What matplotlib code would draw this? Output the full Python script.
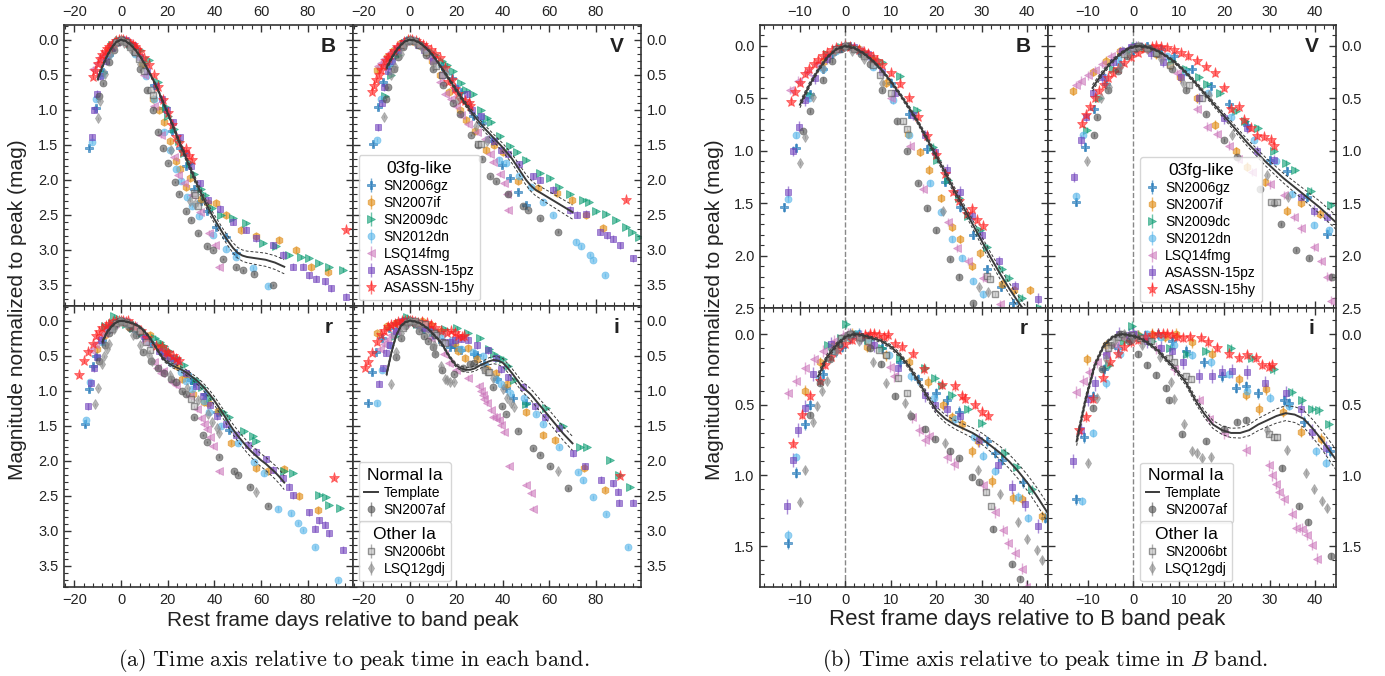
import numpy as np
import matplotlib
matplotlib.use('Agg')
import matplotlib.pyplot as plt
from matplotlib.ticker import MultipleLocator, AutoMinorLocator
from matplotlib.lines import Line2D

plt.rcParams['font.family'] = ['Liberation Sans', 'DejaVu Sans']
plt.rcParams['mathtext.fontset'] = 'cm'

# ---------------- objects ----------------
sn_names = ['SN2006gz', 'SN2007if', 'SN2009dc', 'SN2012dn', 'LSQ14fmg',
            'ASASSN-15pz', 'ASASSN-15hy', 'SN2007af', 'SN2006bt', 'LSQ12gdj']
sn_colors = ['#1470b4', '#e08a10', '#0a9c72', '#56b4e9', '#cc78bc',
             '#7040bc', '#ff2020', '#505050', '#777777', '#8a8a8a']
sn_markers = ['P', 'h', '>', 'o', '<', 's', '*', 'o', 's', 'd']
sn_err = [0.04, 0.04, 0.03, 0.03, 0.04, 0.05, 0.03, 0.02, 0.02, 0.02]

# band-peak time relative to B-band peak (days), per object
B_off = [0, 0, 0, 0, 0, 0, 0, 0, 0, 0]
V_off = [3, 1, 0.5, 1.5, 1, 0.5, 5, 1.5, 1, 1]
r_off = [3, 1.5, 3, 2.5, 0.5, 1.4, 6.4, 1.5, 1, 1]
i_off = [5.5, 4, 1, 3, 0, 0, 7.5, -3, -2.5, -2]

# ---------------- B band (days from band peak, mag from peak) ----------------
B_06gz_t = [-13.6, -10.8, -7.8, -5, -3, -1, 1, 3, 6, 10, 14, 18, 22, 25.2, 28, 31.2, 34.3, 37, 40.8, 45, 49.4]
B_06gz_m = [1.54, 0.97, 0.46, 0.22, 0.08, 0.02, 0.0, 0.04, 0.12, 0.35, 0.65, 0.98, 1.3, 1.54, 1.8, 2.13, 2.3, 2.45, 2.67, 2.81, 3.05]
B_07if_t = [-5, -2, 0.5, 3, 6, 9, 13.8, 16.4, 18.5, 21, 23.4, 25.2, 27.8, 29.6, 34.4, 37.2, 40.6, 45, 51.5, 58, 67.9, 75, 81.5, 88.7]
B_07if_m = [0.15, 0.04, 0.0, 0.03, 0.13, 0.35, 0.84, 1.01, 1.18, 1.45, 1.73, 1.84, 2.1, 1.98, 2.27, 2.33, 2.33, 2.5, 2.71, 2.8, 2.86, 3.0, 3.24, 3.31]
B_09dc_t = [-7.8, -4, -1, 1, 4, 8, 12, 15.7, 19.3, 20.1, 22.6, 25, 27, 29.6, 31.2, 34.4, 36, 38.8, 42.9, 47.9, 53.6, 60.8, 66.5, 72.2, 77.2, 80.7, 85, 89.4, 95.1]
B_09dc_m = [0.47, 0.08, 0.01, 0.0, 0.06, 0.15, 0.29, 0.61, 0.96, 1.09, 1.28, 1.45, 1.62, 1.76, 1.92, 2.13, 2.21, 2.40, 2.5, 2.55, 2.62, 2.9, 2.95, 3.07, 3.1, 3.12, 3.19, 3.24, 3.28]
B_12dn_t = [-12.6, -10.8, -8, -5, -2, 0, 3, 6, 10.5, 14, 18.6, 21, 23.4, 25.6, 28.1, 30.4, 33.6, 39.3, 45.1, 49.3, 56.5, 62.9]
B_12dn_m = [1.46, 0.85, 0.5, 0.22, 0.05, 0.0, 0.05, 0.2, 0.52, 0.85, 1.31, 1.58, 1.84, 2.02, 2.24, 2.37, 2.52, 2.79, 2.98, 3.1, 3.26, 3.51]
B_14fmg_t = [-12.2, -10.4, -8.5, -6.3, -4, -2, 0, 3, 6, 10, 14.2, 17.1, 22.6, 24.5, 27, 30.4, 34, 37.9, 40.1, 42.2]
B_14fmg_m = [0.42, 0.33, 0.25, 0.17, 0.09, 0.03, 0.0, 0.04, 0.15, 0.5, 0.95, 1.36, 1.68, 1.93, 2.05, 2.21, 2.46, 2.76, 2.93, 3.24]
B_15pz_t = [-12.6, -11.5, -10.2, -8.9, -6.6, -4, -2, 0, 2, 5, 8, 11, 14.9, 17.5, 19.7, 22.3, 25.2, 27.8, 30, 33.9, 37.3, 42.5, 47.9, 53.6, 58, 65, 69.4, 73.6, 77.9, 80.8, 83.7, 87.3, 90.1, 96.6]
B_15pz_m = [1.39, 1.0, 0.77, 0.52, 0.31, 0.12, 0.03, 0.0, 0.01, 0.08, 0.25, 0.45, 0.66, 0.85, 1.01, 1.18, 1.39, 1.62, 1.8, 2.05, 2.29, 2.41, 2.6, 2.71, 2.83, 2.93, 3.07, 3.24, 3.24, 3.36, 3.41, 3.45, 3.55, 3.67]
B_15hy_t = [-12, -11, -10, -9, -8, -7, -6, -5, -4, -3, -2, -1, 0, 1, 2, 3, 4, 5, 6, 7, 8, 10, 12, 14, 16, 18, 20, 22, 23.7, 25, 26.7, 27.9, 29, 30.4, 96.6]
B_15hy_m = [0.53, 0.44, 0.35, 0.27, 0.22, 0.17, 0.13, 0.1, 0.07, 0.04, 0.02, 0.01, 0.0, 0.01, 0.02, 0.04, 0.06, 0.08, 0.11, 0.14, 0.18, 0.26, 0.36, 0.5, 0.68, 0.86, 1.04, 1.22, 1.39, 1.48, 1.6, 1.56, 1.66, 1.72, 2.71]
B_07af_t = [-9.3, -7.8, -5, -3, -1, 0.5, 2, 3.5, 5.4, 8, 11.3, 13.5, 16, 18, 20, 23, 25, 28, 30, 33, 37, 39.5, 43.6, 49.4, 52.2, 57.2, 65]
B_07af_m = [0.81, 0.62, 0.32, 0.14, 0.03, 0.0, 0.03, 0.08, 0.17, 0.42, 0.72, 1.0, 1.31, 1.55, 1.76, 2.03, 2.2, 2.45, 2.57, 2.76, 2.95, 3.0, 3.13, 3.25, 3.29, 3.34, 3.5]
B_06bt_t = [-2, 0, 2, 4, 6, 7.6, 10, 12.7, 13.6, 31.1, 31.8, 33]
B_06bt_m = [0.03, 0.0, 0.03, 0.1, 0.18, 0.28, 0.45, 0.72, 0.79, 2.19, 2.22, 2.37]
B_12gdj_t = [-10, -8.9, -7.1, -4.9, -2.5, 0, 1.4, 4, 8, 21.5, 29.5, 31.5]
B_12gdj_m = [1.12, 0.87, 0.49, 0.21, 0.06, 0.0, 0.05, 0.12, 0.35, 1.57, 2.3, 2.35]

# ---------------- V band ----------------
V_06gz_t = [-15.7, -13.6, -11.7, -9, -6, -3, 0, 3, 6, 10, 14, 18, 22, 27.1, 30.9, 35.3, 39.7, 43, 46.6, 50]
V_06gz_m = [1.49, 0.96, 0.6, 0.36, 0.17, 0.05, 0.0, 0.03, 0.1, 0.22, 0.38, 0.55, 0.75, 1.09, 1.19, 1.44, 1.79, 1.98, 2.17, 2.36]
V_07if_t = [-14.2, -10, -7, -4, -1, 1, 4, 7, 9.3, 13, 17, 21.5, 24, 28, 32.9, 36, 40, 46.6, 55, 63.2, 69.6, 76, 83.2]
V_07if_m = [0.43, 0.25, 0.14, 0.05, 0.01, 0.02, 0.08, 0.18, 0.3, 0.5, 0.75, 1.0, 1.15, 1.3, 1.57, 1.5, 1.6, 2.02, 2.12, 2.19, 2.29, 2.5, 2.69]
V_09dc_t = [-10.7, -8, -5, -2, 0, 2, 5, 8, 11, 14, 15.8, 18.6, 22, 24, 27, 30.5, 33, 35, 38.6, 43, 46, 50.1, 55.9, 60.2, 64.4, 69, 74.4, 77.2, 80.1, 84.4, 88.6, 92.9, 95.8, 98.6]
V_09dc_m = [0.8, 0.5, 0.22, 0.05, 0.0, 0.01, 0.06, 0.14, 0.22, 0.3, 0.36, 0.45, 0.62, 0.72, 0.78, 1.0, 1.12, 1.18, 1.38, 1.52, 1.6, 1.71, 1.9, 1.98, 2.1, 2.2, 2.29, 2.31, 2.45, 2.48, 2.57, 2.67, 2.74, 2.81]
V_12dn_t = [-14.2, -12.5, -8, -5, -2, 0, 3, 6, 10, 15, 20, 25, 30, 33.5, 38.3, 41.5, 47, 52.3, 57.3, 61.6, 71.6, 73.8, 77.4, 78.8, 83.8]
V_12dn_m = [1.43, 0.85, 0.3, 0.12, 0.02, 0.0, 0.03, 0.1, 0.25, 0.45, 0.68, 0.9, 1.1, 1.41, 1.71, 1.76, 1.95, 2.1, 2.31, 2.5, 2.88, 2.95, 3.07, 3.14, 3.36]
V_14fmg_t = [-13.7, -12.5, -11, -9.5, -8, -6, -4, -2, 0, 2, 5, 8.7, 13.1, 15.3, 17.5, 20, 22, 25, 29, 32.2, 34.4, 35.9, 38.8, 40.3, 41.7, 42.4]
V_14fmg_m = [0.37, 0.33, 0.28, 0.23, 0.17, 0.1, 0.05, 0.02, 0.0, 0.03, 0.1, 0.26, 0.6, 0.77, 0.84, 0.95, 1.08, 1.2, 1.32, 1.42, 1.63, 1.74, 1.92, 2.05, 2.2, 2.43]
V_15pz_t = [-13.6, -12, -11, -9.5, -7.5, -5, -3, -1, 0, 3.3, 6, 10, 14, 19.5, 24.6, 26.8, 30.5, 36.4, 39.3, 42.2, 47, 53.1, 56, 61.7, 68.9, 71.8, 76, 81.8, 84.7, 87.6, 90.3, 96.1]
V_15pz_m = [1.25, 0.9, 0.68, 0.45, 0.3, 0.15, 0.05, 0.01, 0.0, 0.07, 0.15, 0.3, 0.5, 0.69, 0.78, 1.0, 1.09, 1.44, 1.57, 1.63, 1.78, 1.95, 2.0, 2.14, 2.43, 2.5, 2.48, 2.74, 2.79, 2.84, 2.93, 3.12]
V_15hy_t = [-16.4, -15.5, -14.5, -13.5, -12.5, -11.5, -10.5, -9.5, -8.5, -7, -5.5, -4, -2.5, -1, 0, 1, 2.5, 4, 5.5, 7, 9, 11, 13, 15, 16.4, 18.2, 19.4, 20.8, 22.2, 23.8, 25.3, 26, 93.1]
V_15hy_m = [0.74, 0.66, 0.58, 0.5, 0.43, 0.37, 0.31, 0.26, 0.22, 0.16, 0.11, 0.07, 0.03, 0.01, 0.0, 0.01, 0.02, 0.04, 0.07, 0.1, 0.14, 0.2, 0.26, 0.4, 0.6, 0.58, 0.71, 0.78, 0.86, 0.87, 0.9, 0.95, 2.29]
V_07af_t = [-10.2, -9.5, -7, -5, -3, -1, 0, 2, 4, 7, 10, 14.4, 18.4, 21.4, 26.3, 29.4, 31, 34.4, 37.2, 42.2, 48.7, 50.8, 55.9, 63.7]
V_07af_m = [0.85, 0.68, 0.42, 0.24, 0.1, 0.02, 0.0, 0.02, 0.08, 0.22, 0.42, 0.65, 0.9, 1.06, 1.36, 1.5, 1.70, 1.95, 2.02, 2.2, 2.38, 2.43, 2.55, 2.74]
V_06bt_t = [-3, -1, 0, 2, 4, 7, 11.3, 14, 29.3, 30.7]
V_06bt_m = [0.08, 0.02, 0.0, 0.02, 0.07, 0.18, 0.37, 0.5, 1.49, 1.49]
V_12gdj_t = [-11.3, -8.2, -6.4, -4, -2, 0, 2, 5, 10, 15.7, 20.8, 28.5, 33.1]
V_12gdj_m = [1.1, 0.5, 0.39, 0.2, 0.06, 0.0, 0.03, 0.12, 0.35, 0.47, 0.85, 1.23, 1.44]

# ---------------- r band ----------------
r_06gz_t = [-15.6, -13.8, -11.9, -10.8, -8, -5, -3.8, -2, 0, 2, 5, 9, 13, 17, 19.3, 22, 28.1, 29.9, 31.4, 36, 41, 46.5]
r_06gz_m = [1.48, 0.98, 0.64, 0.5, 0.28, 0.12, 0.09, 0.03, 0.0, 0.02, 0.1, 0.2, 0.32, 0.42, 0.47, 0.55, 0.76, 0.84, 0.89, 1.05, 1.3, 1.56]
r_07if_t = [-10.4, -7, -4, -1, 0, 3.2, 7.5, 12.4, 16.7, 20, 21.9, 24.1, 26.3, 27.7, 30.7, 35.5, 37.3, 41.7, 47.2, 57.9, 63, 70.1, 76.5, 84.4]
r_07if_m = [0.40, 0.2, 0.08, 0.02, 0.0, 0.09, 0.15, 0.2, 0.34, 0.5, 0.59, 0.64, 0.83, 0.76, 1.04, 1.16, 1.17, 1.29, 1.74, 2.10, 2.15, 2.11, 2.5, 2.7]
r_09dc_t = [-6.8, -4, -2.9, -1, 0, 2, 5, 9, 14.5, 16.7, 18.2, 20.4, 24, 27.1, 32.2, 34.7, 38, 43.6, 46.5, 52.9, 56.5, 57.9, 70.1, 73.7, 85.1, 88, 89.4, 94]
r_09dc_m = [0.08, 0.03, -0.07, 0.0, 0.0, 0.04, 0.1, 0.17, 0.24, 0.31, 0.36, 0.43, 0.53, 0.63, 0.84, 0.94, 1.1, 1.3, 1.37, 1.58, 1.65, 1.72, 2.15, 2.17, 2.48, 2.51, 2.63, 2.67]
r_12dn_t = [-15.1, -13.3, -8.4, -5, -2, 0, 3, 7, 12, 17, 21.6, 25.7, 27.9, 30.4, 35.6, 37.8, 43, 50, 57.2, 61.5, 67.2, 73, 75.8, 78, 83, 93]
r_12dn_m = [1.42, 0.87, 0.31, 0.12, 0.02, 0.0, 0.04, 0.15, 0.3, 0.45, 0.6, 0.73, 0.86, 0.97, 1.15, 1.3, 1.5, 1.75, 2.01, 2.18, 2.68, 2.75, 2.89, 2.99, 3.23, 3.7]
r_14fmg_t = [-13.1, -11.3, -9.4, -7.5, -5.5, -3, -1, 0, 2, 5, 9.3, 10.3, 14.1, 15.6, 17, 18, 21.9, 23.4, 29.7, 32.4, 34.3, 35.4, 36.9, 38.3, 39.3, 42.2]
r_14fmg_m = [0.42, 0.33, 0.24, 0.18, 0.12, 0.05, 0.01, 0.0, 0.02, 0.08, 0.23, 0.3, 0.59, 0.68, 0.75, 0.72, 0.87, 0.92, 1.07, 1.26, 1.39, 1.48, 1.55, 1.66, 1.79, 2.15]
r_15pz_t = [-14.3, -13, -11.8, -10.3, -8.5, -4.5, -0.4, 2, 5, 10.2, 16.1, 18.3, 20.9, 23.8, 28, 32.3, 35.2, 38.1, 41.1, 45, 49.3, 54.4, 58, 62.2, 65.1, 69.4, 72.2, 73.7, 80.8, 83, 85.1, 87.3, 89.4, 95.1]
r_15pz_m = [1.22, 0.89, 0.68, 0.52, 0.28, 0.07, 0.01, 0.02, 0.08, 0.24, 0.43, 0.5, 0.53, 0.58, 0.75, 0.93, 1.08, 1.2, 1.36, 1.48, 1.63, 1.77, 1.87, 1.98, 2.13, 2.25, 2.37, 2.49, 2.73, 2.97, 2.85, 2.91, 3.03, 3.27]
r_15hy_t = [-17.9, -16, -14.2, -12, -10.9, -9.5, -8, -6.5, -5, -3.5, -2, -1, 0, 1, 2, 3, 4.5, 6, 8.5, 11, 14.8, 17.7, 19.2, 20, 22.1, 23.6, 25, 91.5]
r_15hy_m = [0.78, 0.57, 0.44, 0.33, 0.22, 0.16, 0.11, 0.07, 0.04, 0.02, 0.01, 0.0, 0.0, 0.01, 0.02, 0.01, 0.07, 0.09, 0.14, 0.25, 0.36, 0.37, 0.44, 0.46, 0.5, 0.55, 0.58, 2.25]
r_07af_t = [-9.3, -7, -5, -3, -1, 0, 2, 4, 6.4, 9.4, 13, 16, 18.2, 21.5, 23.4, 26.3, 28, 31.1, 35.1, 36.9, 42.2, 48.6, 50.1, 55.1, 63]
r_07af_m = [0.57, 0.35, 0.18, 0.07, 0.01, 0.0, 0.03, 0.1, 0.21, 0.44, 0.58, 0.67, 0.74, 0.83, 0.88, 1.01, 1.05, 1.38, 1.63, 1.73, 1.94, 2.15, 2.2, 2.37, 2.64]
r_06bt_t = [-4, -2, 0, 2, 4, 6.5, 8, 10.6, 12.5, 30, 31.1]
r_06bt_m = [0.12, 0.03, 0.0, 0.02, 0.05, 0.11, 0.15, 0.31, 0.42, 1.12, 1.22]
r_12gdj_t = [-11.1, -9.9, -8.1, -7.3, -6.2, -5.1, -3, -1, 0, 2, 5, 8, 12.1, 13.2, 20.9, 28.3, 33, 37.1, 38.9, 41.1, 42.2, 57.9]
r_12gdj_m = [1.19, 0.96, 0.62, 0.51, 0.4, 0.33, 0.12, 0.02, 0.0, 0.05, 0.2, 0.35, 0.49, 0.57, 0.77, 0.96, 1.13, 1.33, 1.45, 1.53, 1.6, 2.44]

# ---------------- i band ----------------
i_06gz_t = [-18.2, -16.4, -14.5, -12, -9, -6, -3, 0, 3, 6, 10, 14, 17.1, 19.3, 22, 27.7, 28.8, 32, 37.7, 41.5, 44.4, 50]
i_06gz_m = [1.17, 0.73, 0.44, 0.25, 0.1, 0.03, 0.01, 0.0, 0.05, 0.12, 0.2, 0.3, 0.38, 0.37, 0.42, 0.47, 0.49, 0.62, 0.83, 0.96, 1.1, 1.17]
i_07if_t = [-14.2, -10, -6, -3, 0, 3, 5.3, 9, 13.4, 19.3, 20.8, 23.7, 25.2, 29, 33, 37.2, 42, 50.1, 57.3, 62.3, 75, 83.8]
i_07if_m = [0.18, 0.08, 0.03, 0.01, 0.0, 0.02, 0.0, 0.06, 0.14, 0.32, 0.43, 0.53, 0.39, 0.55, 0.69, 0.74, 0.9, 1.3, 1.63, 1.7, 2.1, 2.41]
i_09dc_t = [-6.4, -3, -1.2, 0, 3, 7, 10.9, 15, 20.4, 25, 30, 34, 36.2, 38.4, 39.9, 42.1, 45, 50.1, 58.8, 66, 73.4, 76.3, 86.3, 89.9, 94.8]
i_09dc_m = [0.22, 0.05, -0.06, 0.0, 0.05, 0.1, 0.14, 0.12, 0.1, 0.17, 0.25, 0.41, 0.47, 0.53, 0.54, 0.64, 0.85, 1.19, 1.25, 1.5, 1.8, 1.8, 1.99, 2.2, 2.37]
i_12dn_t = [-14.3, -12, -9, -6, -3, 0, 3, 6, 10, 14, 18, 22, 27, 31.3, 37.2, 39.4, 43, 49.3, 54.4, 57.3, 64.4, 72.2, 74.4, 78.7, 84.4, 93.7]
i_12dn_m = [1.18, 0.7, 0.35, 0.14, 0.03, 0.0, 0.02, 0.08, 0.15, 0.2, 0.28, 0.4, 0.45, 0.51, 0.83, 0.91, 1.03, 1.1, 1.33, 1.47, 1.8, 2.16, 2.28, 2.52, 2.76, 3.23]
i_14fmg_t = [-12.7, -11.2, -9.7, -8, -6, -4, -2, 0, 2, 5, 9, 14.5, 16.7, 20, 24.8, 29.9, 30.6, 31.4, 32.1, 33.2, 35, 35.8, 37.2, 38.3, 39.4, 40.5, 42.8, 50.1, 52.3, 53]
i_14fmg_m = [0.41, 0.33, 0.27, 0.2, 0.14, 0.08, 0.03, 0.0, 0.03, 0.1, 0.25, 0.47, 0.6, 0.7, 0.82, 0.93, 1.0, 1.06, 1.12, 1.17, 1.27, 1.37, 1.38, 1.42, 1.49, 1.59, 2.08, 2.34, 2.46, 2.68]
i_15pz_t = [-13.4, -11.5, -10.1, -8.5, -6, -3.2, -1, 0, 3, 6, 8.6, 11, 14.5, 17.4, 19.6, 21.8, 25.1, 29, 33.6, 36.9, 39.4, 42.4, 48.7, 53.7, 58, 64.4, 70.2, 75.2, 82.3, 87.3, 89.4, 90.1, 96.1]
i_15pz_m = [0.9, 0.68, 0.46, 0.35, 0.15, 0.0, 0.01, 0.0, 0.05, 0.1, 0.12, 0.2, 0.3, 0.3, 0.27, 0.26, 0.27, 0.35, 0.42, 0.53, 0.69, 0.81, 0.94, 1.22, 1.38, 1.53, 1.89, 2.08, 2.27, 2.32, 2.44, 2.6, 2.6]
i_15hy_t = [-19.4, -17.9, -16.5, -14.3, -12.6, -11, -9.5, -8, -6.5, -5, -3.5, -2, -1, 0, 1, 2, 3.5, 5, 7.3, 9, 11, 13.5, 15.8, 17.5, 19.4, 20.9, 22.4, 23.1, 90.3]
i_15hy_m = [0.68, 0.59, 0.46, 0.31, 0.2, 0.14, 0.09, 0.06, 0.04, 0.02, 0.01, 0.0, 0.0, 0.0, 0.01, 0.02, 0.03, 0.02, 0.03, 0.06, 0.1, 0.14, 0.17, 0.15, 0.17, 0.22, 0.23, 0.22, 2.22]
i_07af_t = [-6, -4, -2, 0, 2, 4, 6, 7.9, 10.1, 10.9, 13.8, 18.9, 22.9, 25.9, 27.8, 35.8, 39.5, 41.4, 46.4, 53, 55.9, 60.2, 68]
i_07af_m = [0.52, 0.25, 0.08, 0.0, 0.05, 0.14, 0.22, 0.29, 0.38, 0.47, 0.71, 0.76, 0.67, 0.62, 0.61, 0.95, 1.22, 1.33, 1.57, 1.82, 1.91, 2.08, 2.39]
i_06bt_t = [-3, -1, 0, 2, 4, 6.3, 10.4, 11.4, 14, 15.1, 32.4, 33.5, 34.2]
i_06bt_m = [0.1, 0.02, 0.0, 0.01, 0.03, 0.05, 0.17, 0.2, 0.3, 0.32, 0.71, 0.73, 0.73]
i_12gdj_t = [-8.1, -6, -4, -2, 0, 2, 4, 7.8, 10.2, 10.9, 13.2, 15, 16.1, 17.2, 19, 31.5, 35.9, 39.9, 41.7, 43.6, 44.7, 63.7]
i_12gdj_m = [0.91, 0.45, 0.18, 0.04, 0.0, 0.03, 0.08, 0.16, 0.34, 0.46, 0.64, 0.83, 0.84, 0.88, 0.87, 0.68, 0.82, 0.98, 1.1, 1.18, 1.23, 2.15]

# ---------------- normal Ia template ----------------
tmpl_t = [-10, -8, -6, -4, -2, 0, 2, 4, 6, 8, 10, 12, 14, 16, 18, 20, 22, 24, 26, 28, 30,
          32, 34, 36, 38, 40, 42, 44, 46, 48, 50, 52, 54, 56, 58, 60, 62, 64, 66, 68, 70]
tmpl_B = [0.56, 0.38, 0.23, 0.11, 0.03, 0.0, 0.02, 0.07, 0.14, 0.23, 0.34, 0.46, 0.59, 0.73, 0.89, 1.05, 1.21, 1.38, 1.54, 1.70, 1.86,
          2.02, 2.17, 2.31, 2.44, 2.56, 2.67, 2.78, 2.88, 2.97, 3.04, 3.08, 3.10, 3.11, 3.12, 3.13, 3.14, 3.16, 3.18, 3.21, 3.24]
tmpl_V = [0.40, 0.27, 0.16, 0.08, 0.02, 0.0, 0.01, 0.04, 0.09, 0.15, 0.23, 0.32, 0.42, 0.52, 0.62, 0.72, 0.82, 0.92, 1.01, 1.10, 1.18,
          1.26, 1.33, 1.40, 1.47, 1.54, 1.62, 1.70, 1.80, 1.90, 2.0, 2.08, 2.14, 2.18, 2.22, 2.26, 2.30, 2.34, 2.38, 2.42, 2.46]
tmpl_r = [np.nan, 0.30, 0.16, 0.08, 0.02, 0.0, 0.01, 0.03, 0.05, 0.09, 0.15, 0.23, 0.33, 0.44, 0.54, 0.60, 0.64, 0.67, 0.70, 0.74, 0.79,
          0.84, 0.90, 0.97, 1.05, 1.14, 1.24, 1.34, 1.45, 1.55, 1.64, 1.72, 1.80, 1.87, 1.93, 1.99, 2.04, 2.10, 2.16, 2.23, 2.31]
tmpl_i = [0.76, 0.46, 0.22, 0.08, 0.02, 0.0, 0.01, 0.03, 0.07, 0.12, 0.19, 0.26, 0.34, 0.46, 0.56, 0.64, 0.68, 0.70, 0.70, 0.68, 0.64,
          0.61, 0.58, 0.56, 0.57, 0.60, 0.67, 0.75, 0.84, 0.93, 0.99, 1.05, 1.13, 1.21, 1.29, 1.37, 1.45, 1.53, 1.61, 1.68, 1.75]
tmpl_err = [0.03, 0.025, 0.02, 0.015, 0.01, 0.01, 0.01, 0.01, 0.012, 0.014, 0.016, 0.018, 0.02, 0.022, 0.025, 0.028, 0.03, 0.033, 0.036, 0.04, 0.043,
            0.046, 0.05, 0.053, 0.056, 0.06, 0.063, 0.066, 0.07, 0.073, 0.076, 0.08, 0.083, 0.086, 0.09, 0.092, 0.094, 0.096, 0.098, 0.1, 0.1]
tmpl_off = {'B': 0, 'V': 1, 'r': 2, 'i': -2.5}

BANDS = {
    'B': [(B_06gz_t, B_06gz_m), (B_07if_t, B_07if_m), (B_09dc_t, B_09dc_m), (B_12dn_t, B_12dn_m), (B_14fmg_t, B_14fmg_m),
          (B_15pz_t, B_15pz_m), (B_15hy_t, B_15hy_m), (B_07af_t, B_07af_m), (B_06bt_t, B_06bt_m), (B_12gdj_t, B_12gdj_m)],
    'V': [(V_06gz_t, V_06gz_m), (V_07if_t, V_07if_m), (V_09dc_t, V_09dc_m), (V_12dn_t, V_12dn_m), (V_14fmg_t, V_14fmg_m),
          (V_15pz_t, V_15pz_m), (V_15hy_t, V_15hy_m), (V_07af_t, V_07af_m), (V_06bt_t, V_06bt_m), (V_12gdj_t, V_12gdj_m)],
    'r': [(r_06gz_t, r_06gz_m), (r_07if_t, r_07if_m), (r_09dc_t, r_09dc_m), (r_12dn_t, r_12dn_m), (r_14fmg_t, r_14fmg_m),
          (r_15pz_t, r_15pz_m), (r_15hy_t, r_15hy_m), (r_07af_t, r_07af_m), (r_06bt_t, r_06bt_m), (r_12gdj_t, r_12gdj_m)],
    'i': [(i_06gz_t, i_06gz_m), (i_07if_t, i_07if_m), (i_09dc_t, i_09dc_m), (i_12dn_t, i_12dn_m), (i_14fmg_t, i_14fmg_m),
          (i_15pz_t, i_15pz_m), (i_15hy_t, i_15hy_m), (i_07af_t, i_07af_m), (i_06bt_t, i_06bt_m), (i_12gdj_t, i_12gdj_m)],
}
OFFS = {'B': B_off, 'V': V_off, 'r': r_off, 'i': i_off}
TMPL = {'B': tmpl_B, 'V': tmpl_V, 'r': tmpl_r, 'i': tmpl_i}

ms_map = {'P': 5.5, 'h': 5.5, '>': 5.5, 'o': 5, '<': 5.5, 's': 5, '*': 8, 'd': 5}
SPINE = '#333333'
TCOL = '#3a3a3a'

fig = plt.figure(figsize=(13.85, 6.76), dpi=100)
W, H = 1385.0, 676.0


def add_ax(x0, x1, y0, y1):
    return fig.add_axes([x0 / W, 1 - y1 / H, (x1 - x0) / W, (y1 - y0) / H])


def style(ax, top_row, right_col, xmaj, xlim, ylim):
    ax.set_xlim(*xlim)
    ax.set_ylim(*ylim)
    ax.xaxis.set_major_locator(MultipleLocator(xmaj))
    ax.xaxis.set_minor_locator(AutoMinorLocator(5))
    ax.yaxis.set_major_locator(MultipleLocator(0.5))
    ax.yaxis.set_minor_locator(AutoMinorLocator(5))
    ax.tick_params(which='both', direction='in', top=True, bottom=True, left=True, right=True,
                   colors=SPINE, labelcolor='#222222', labelsize=10.5)
    ax.tick_params(which='major', length=5, width=1.0, pad=4)
    ax.tick_params(which='minor', length=2.8, width=0.8)
    ax.tick_params(labeltop=top_row, labelbottom=not top_row,
                   labelleft=not right_col, labelright=right_col)
    for sp in ax.spines.values():
        sp.set_color(SPINE)
        sp.set_linewidth(1.2)


def draw(ax, band, shifted):
    data = BANDS[band]
    offs = OFFS[band]
    handles = []
    for k in range(len(sn_names)):
        t = np.asarray(data[k][0], float)
        if shifted:
            t = t + offs[k]
        m = np.asarray(data[k][1], float)
        mk = sn_markers[k]
        kw = dict(fmt=mk, color=sn_colors[k], ms=ms_map[mk], alpha=0.6,
                  elinewidth=1.0, capsize=0, zorder=2, mew=0.6)
        if sn_names[k] == 'SN2006bt':
            kw.update(mfc='#c4c4c4', mec='#555555', mew=1.0)
        if sn_names[k] == 'SN2007af':
            kw.update(alpha=0.6)
        h = ax.errorbar(t, m, yerr=sn_err[k], **kw)
        handles.append(h)
    tt = np.asarray(tmpl_t, float) + (tmpl_off[band] if shifted else 0)
    tm = np.asarray(TMPL[band], float)
    te = np.asarray(tmpl_err, float)
    ax.plot(tt, tm, color=TCOL, lw=1.4, zorder=5)
    ax.plot(tt, tm - te, color=TCOL, lw=0.7, ls=(0, (3, 2)), zorder=5)
    ax.plot(tt, tm + te, color=TCOL, lw=0.7, ls=(0, (3, 2)), zorder=5)
    if shifted:
        ax.axvline(0, color='#888888', ls='--', lw=1.0, zorder=1)
    ax.text(0.915, 0.925, band, transform=ax.transAxes, fontsize=15, fontweight='bold',
            ha='center', va='center', color='#222222')
    return handles


def legends(ax_v, ax_i, hv, hi, x0):
    lk = dict(fontsize=10, title_fontsize=12.5, frameon=True, fancybox=True, edgecolor='#cccccc',
              handlelength=1.0, handletextpad=0.4, labelspacing=0.22, borderpad=0.4,
              borderaxespad=0.4, loc='lower left')
    l1 = ax_v.legend(hv[:7], sn_names[:7], title='03fg-like', bbox_to_anchor=(x0, 0.0), **lk)
    l1.get_frame().set_linewidth(1.0)
    tl = Line2D([], [], color=TCOL, lw=1.4)
    l2 = ax_i.legend([tl, hi[7]], ['Template', 'SN2007af'], title='Normal Ia',
                     bbox_to_anchor=(x0, 0.21), **lk)
    ax_i.add_artist(l2)
    l3 = ax_i.legend([hi[8], hi[9]], ['SN2006bt', 'LSQ12gdj'], title='Other Ia',
                     bbox_to_anchor=(x0, 0.0), **lk)
    for l in (l2, l3):
        l.get_frame().set_linewidth(1.0)


# ---------------- panel (a) ----------------
xa = (-24.5, 99.5)
ya = (3.8, -0.21)
axB = add_ax(64, 353, 25, 306)
axV = add_ax(353, 641, 25, 306)
axr = add_ax(64, 353, 306, 587)
axi = add_ax(353, 641, 306, 587)
hB = draw(axB, 'B', False)
hV = draw(axV, 'V', False)
hr = draw(axr, 'r', False)
hi = draw(axi, 'i', False)
style(axB, True, False, 20, xa, ya)
style(axV, True, True, 20, xa, ya)
style(axr, False, False, 20, xa, ya)
style(axi, False, True, 20, xa, ya)
legends(axV, axi, hV, hi, 0.0)

# ---------------- panel (b) ----------------
xb = (-18.8, 44.6)
axB2 = add_ax(760, 1048, 25, 308)
axV2 = add_ax(1048, 1336, 25, 308)
axr2 = add_ax(760, 1048, 308, 587)
axi2 = add_ax(1048, 1336, 308, 587)
hB2 = draw(axB2, 'B', True)
hV2 = draw(axV2, 'V', True)
hr2 = draw(axr2, 'r', True)
hi2 = draw(axi2, 'i', True)
style(axB2, True, False, 10, xb, (2.5, -0.2))
style(axV2, True, True, 10, xb, (2.5, -0.2))
style(axr2, False, False, 10, xb, (1.79, -0.184))
style(axi2, False, True, 10, xb, (1.79, -0.184))
legends(axV2, axi2, hV2, hi2, 0.3)

# ---------------- labels ----------------
fig.text(343 / W, 1 - 620 / H, 'Rest frame days relative to band peak', ha='center', va='center',
         fontsize=15, color='#222222')
fig.text(1027 / W, 1 - 620 / H, 'Rest frame days relative to B band peak', ha='center', va='center',
         fontsize=16, color='#222222')
fig.text(18 / W, 1 - 310 / H, 'Magnitude normalized to peak (mag)', rotation=90, ha='center', va='center',
         fontsize=15, color='#222222')
fig.text(714 / W, 1 - 310 / H, 'Magnitude normalized to peak (mag)', rotation=90, ha='center', va='center',
         fontsize=15, color='#222222')
fig.text(354 / W, 1 - 661 / H, r'$\mathrm{(a)\ Time\ axis\ relative\ to\ peak\ time\ in\ each\ band.}$',
         ha='center', va='center', fontsize=16, color='#111111')
fig.text(1045 / W, 1 - 661 / H, r'$\mathrm{(b)\ Time\ axis\ relative\ to\ peak\ time\ in\ }B\mathrm{\ band.}$',
         ha='center', va='center', fontsize=16, color='#111111')

fig.savefig('out.png', dpi=100)
